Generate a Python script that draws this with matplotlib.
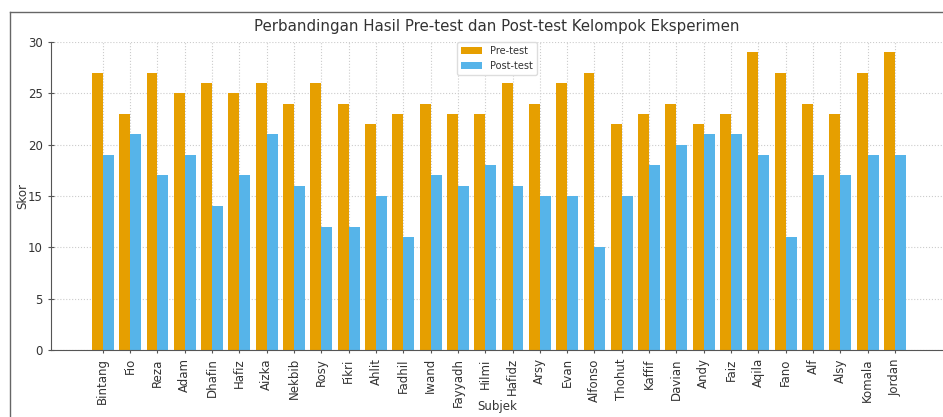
import numpy as np
import matplotlib
matplotlib.use("Agg")
import matplotlib.pyplot as plt
from matplotlib.lines import Line2D

subjek = ["Bintang", "Fio", "Reza", "Adam", "Dhafin", "Hafiz", "Aizka", "Nekbib",
          "Rosy", "Fikri", "Ahlit", "Fadhil", "Iwand", "Fayyadh", "Hilmi", "Hafidz",
          "Arsy", "Evan", "Alfonso", "Thohut", "Kaffif", "Davian", "Andy", "Faiz",
          "Aqila", "Fano", "Alf", "Alsy", "Komala", "Jordan"]
pre_test = [27, 23, 27, 25, 26, 25, 26, 24, 26, 24, 22, 23, 24, 23, 23, 26,
            24, 26, 27, 22, 23, 24, 22, 23, 29, 27, 24, 23, 27, 29]
post_test = [19, 21, 17, 19, 14, 17, 21, 16, 12, 12, 15, 11, 17, 16, 18, 16,
             15, 15, 10, 15, 18, 20, 21, 21, 19, 11, 17, 17, 19, 19]

fig = plt.figure(figsize=(9.43, 4.17), dpi=100)
ax = fig.add_axes([0.054, 0.161, 0.946, 0.738])

x = np.arange(len(subjek))
w = 0.4
ax.bar(x - w / 2, pre_test, w, color="#E69F00", label="Pre-test", zorder=2)
ax.bar(x + w / 2, post_test, w, color="#56B4E9", label="Post-test", zorder=2)

ax.set_xlim(-1.9, 30.76)
ax.set_ylim(0, 30)
ax.set_xticks(x)
ax.set_xticklabels(subjek, rotation=90, fontsize=8.5, color="#333333")
ax.set_yticks([0, 5, 10, 15, 20, 25, 30])
ax.tick_params(axis="y", labelsize=8.5, labelcolor="#333333", direction="inout", length=5, color="#555555")
ax.tick_params(axis="x", direction="inout", length=5, color="#555555")
ax.grid(True, linestyle=":", color="#cccccc", linewidth=0.8, zorder=0)
ax.set_axisbelow(True)

for s in ["top", "right"]:
    ax.spines[s].set_visible(False)
for s in ["left", "bottom"]:
    ax.spines[s].set_color("#555555")

ax.set_title("Perbandingan Hasil Pre-test dan Post-test Kelompok Eksperimen",
             fontsize=10.8, color="#333333", pad=8)
ax.set_ylabel("Skor", fontsize=8.5, color="#333333", labelpad=-1)
ax.set_xlabel("Subjek", fontsize=8.5, color="#333333", labelpad=-5)
ax.legend(loc="upper center", fontsize=7, borderaxespad=0.0, framealpha=1,
          edgecolor="#dddddd", handlelength=2.2, labelcolor="#333333")

# screenshot frame
fig.add_artist(Line2D([10 / 943, 10 / 943], [0, 1 - 12 / 417], color="#666666", lw=1))
fig.add_artist(Line2D([10 / 943, 1], [1 - 12 / 417, 1 - 12 / 417], color="#666666", lw=1))

fig.savefig("out.png", dpi=100)
